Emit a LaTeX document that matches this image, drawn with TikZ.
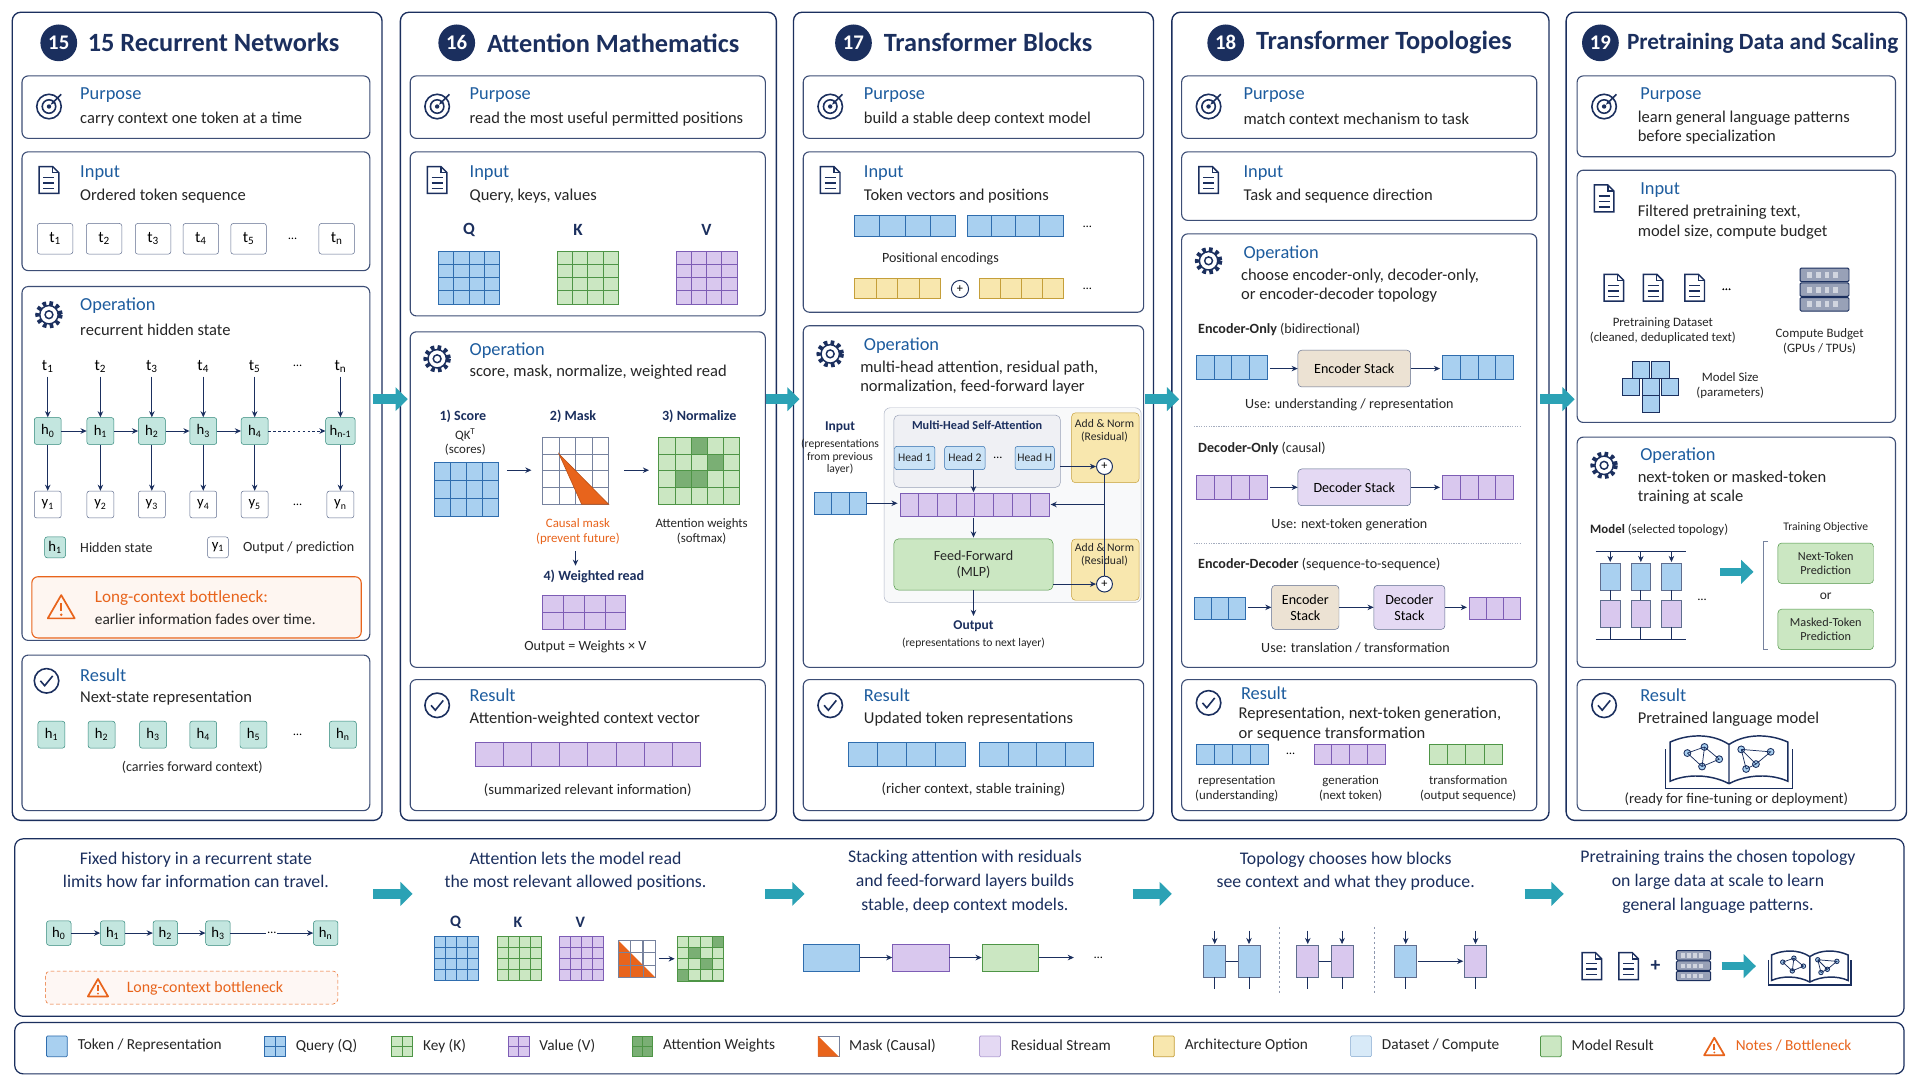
\documentclass[tikz,border=0pt]{standalone}
\usepackage{fontspec}
\setmainfont{Carlito}
\usetikzlibrary{arrows.meta,positioning,calc}

\definecolor{navy}{HTML}{1B2F5E}
\definecolor{headblue}{HTML}{1D5C9E}
\definecolor{tokfill}{HTML}{A9D0F0}
\definecolor{tokedge}{HTML}{2F6DAE}
\definecolor{grnfill}{HTML}{CBE7C2}
\definecolor{grnedge}{HTML}{4E9546}
\definecolor{purpfill}{HTML}{D9C8EE}
\definecolor{purpedge}{HTML}{7D5DB5}
\definecolor{yelfill}{HTML}{F8E7AE}
\definecolor{yeledge}{HTML}{C59F3A}
\definecolor{tealfill}{HTML}{C3E6DF}
\definecolor{tealedge}{HTML}{2E8679}
\definecolor{tanfill}{HTML}{ECE2D3}
\definecolor{warnor}{HTML}{E8641C}
\definecolor{tealar}{HTML}{2BA2B5}

\tikzset{
  panel/.style={draw=navy,line width=1.1pt,rounded corners=7pt,fill=white},
  box/.style={draw=navy!85,line width=.9pt,rounded corners=5pt},
  hd/.style={anchor=west,text=headblue,font=\fontsize{15}{17}\selectfont},
  tx/.style={anchor=west,text=black!85,font=\fontsize{13.5}{16}\selectfont,align=left},
  sm/.style={text=black!85,font=\fontsize{11.5}{13}\selectfont,align=center},
  tiny/.style={text=black!85,font=\fontsize{9.5}{10.5}\selectfont,align=center},
  lbl/.style={text=navy,font=\fontsize{11.5}{13}\bfseries,align=center},
  badge/.style={circle,fill=navy,text=white,minimum size=30pt,inner sep=0pt,font=\fontsize{17}{18}\bfseries},
  ttl/.style={text=navy,font=\fontsize{21.5}{23}\bfseries,anchor=west},
  ar/.style={-{Stealth[length=5pt,width=4.5pt]},line width=.8pt,draw=navy},
  big/.style={-{Triangle[length=10pt,width=19pt]},line width=8pt,draw=tealar},
  tok/.style={draw=navy!70,rounded corners=2pt,minimum width=29pt,minimum height=25pt,fill=white,font=\fontsize{13}{14}\selectfont},
  hbox/.style={draw=tealedge,fill=tealfill,rounded corners=2pt,minimum width=22pt,minimum height=22pt,inner sep=0pt,font=\fontsize{12}{13}\selectfont},
  ybox/.style={draw=navy!70,fill=white,rounded corners=2pt,minimum width=22pt,minimum height=22pt,inner sep=0pt,font=\fontsize{12}{13}\selectfont},
  cb/.style={draw=tokedge,fill=tokfill,line width=.6pt},
  cg/.style={draw=grnedge,fill=grnfill,line width=.6pt},
  cp/.style={draw=purpedge,fill=purpfill,line width=.6pt},
  cy/.style={draw=yeledge,fill=yelfill,line width=.6pt},
  cw/.style={draw=navy!60,fill=white,line width=.6pt},
  stack/.style={draw=navy!70,rounded corners=3pt,minimum width=92pt,minimum height=30pt,font=\fontsize{11.5}{13}\selectfont,align=center},
}

% grid of cells: x, y, cols, rows, cell w, cell h, style
\newcommand\cgrid[7]{\foreach \gi in {1,...,#3}{\foreach \gj in {1,...,#4}{%
  \draw[#7] ({#1+(\gi-1)*#5},{#2+(\gj-1)*#6}) rectangle ++(#5,#6);}}}
% icons
\newcommand\icotarget[2]{\begin{scope}[shift={(#1,#2)},navy,line width=1.3pt]
  \draw (0,0) circle (10); \draw (0,0) circle (5.5); \fill (0,0) circle (1.8);
  \draw[-{Stealth[length=4pt]}] (10,-10)--(1.5,-1.5);\end{scope}}
\newcommand\icodoc[2]{\begin{scope}[shift={(#1,#2)},navy,line width=1.2pt]
  \draw (-8,-11)--(3,-11)--(8,-6)--(8,11)--(-8,11)--cycle; \draw (3,-11)--(3,-6)--(8,-6);
  \foreach \ly in {-2,2.5,7} \draw (-4.5,\ly)--(4.5,\ly);\end{scope}}
\newcommand\icogear[2]{\begin{scope}[shift={(#1,#2)},navy]
  \draw[line width=3.5pt,dash pattern=on 3pt off 2.6pt] (0,0) circle (9.5);
  \draw[line width=1.2pt,fill=white] (0,0) circle (7.5); \draw[line width=1.2pt] (0,0) circle (3.2);\end{scope}}
\newcommand\icocheck[2]{\begin{scope}[shift={(#1,#2)},navy,line width=1.3pt]
  \draw (0,0) circle (10); \draw (-5,0)--(-1.5,4)--(5,-4);\end{scope}}
\newcommand\icowarn[3]{\begin{scope}[shift={(#1,#2)},scale=#3,warnor,line width=1.4pt,line join=round]
  \draw (0,-10)--(11,9)--(-11,9)--cycle; \draw (0,-3.5)--(0,3); \fill (0,6) circle (1.1);\end{scope}}
\newcommand\icoserver[3]{\begin{scope}[shift={(#1,#2)},scale=#3]
  \foreach \sy in {-18,-6,6} {\draw[fill=navy!45,draw=navy,line width=.8pt,rounded corners=1pt] (-20,\sy) rectangle (20,\sy+11);
  \foreach \sx in {-14,-7,0,7} \fill[white!80!navy] (\sx,\sy+3) rectangle ++(4,5);}\end{scope}}
\newcommand\icobook[3]{\begin{scope}[shift={(#1,#2)},scale=#3,navy,line width=1.2pt]
  \draw (0,-12) .. controls (-15,-22) and (-35,-20) .. (-48,-14) -- (-48,18) .. controls (-35,12) and (-15,12) .. (0,20) .. controls (15,12) and (35,12) .. (48,18) -- (48,-14) .. controls (35,-20) and (15,-22) .. (0,-12) -- (0,20);
  \draw (-52,-8)--(-52,24)--(52,24)--(52,-8);
  \foreach \p/\q in {-34/-5,-20/-10,-22/6,-8/0,10/-8,22/4,34/-6,14/8}{\fill[tokfill,draw=navy,line width=.7pt] (\p,\q) circle (2.8);}
  \draw[line width=.6pt] (-34,-5)--(-20,-10)--(-8,0)--(-22,6)--(-34,-5) (-20,-10)--(-22,6) (10,-8)--(22,4)--(34,-6)--(10,-8) (14,8)--(22,4) (10,-8)--(14,8);
\end{scope}}

\begin{document}
\begin{tikzpicture}[x=1pt,y=-1pt]
\useasboundingbox (0,0) rectangle (1568,882);
\fill[white] (0,0) rectangle (1568,882);

% ---------- panels
\draw[panel] (10,10) rectangle (312,670);
\draw[panel] (327,10) rectangle (634,670);
\draw[panel] (648,10) rectangle (942,670);
\draw[panel] (957,10) rectangle (1265,670);
\draw[panel] (1279,10) rectangle (1557,670);
\foreach \ax in {305,625,935,1258} \draw[big] (\ax,326)--(\ax+28,326);

% ---------- 15 recurrent networks
\node[badge] (b15) at (48,35) {15};
\node[ttl,right=5pt of b15] {15 Recurrent Networks};
\draw[box] (18,62) rectangle (302,113); \icotarget{40}{87}
\node[hd] at (62,78) {Purpose}; \node[tx] at (62,97) {carry context one token at a time};
\draw[box] (18,124) rectangle (302,221); \icodoc{40}{147}
\node[hd] at (62,141) {Input}; \node[tx] at (62,160) {Ordered token sequence};
\foreach \x/\i in {45/1,85/2,125/3,164/4,203/5} \node[tok] at (\x,195) {t\textsubscript{\i}};
\node at (239,195) {\dots}; \node[tok] at (275,195) {t\textsubscript{n}};
\draw[box] (18,234) rectangle (302,523); \icogear{40}{257}
\node[hd] at (62,250) {Operation}; \node[tx] at (62,269) {recurrent hidden state};
\foreach \x/\i [count=\k] in {39/0,82/1,124/2,166/3,208/4}{
  \node[hbox] (h\i) at (\x,352) {h\textsubscript{\i}};
  \node[font=\fontsize{13}{14}\selectfont] (t\i) at (\x,299) {t\textsubscript{\k}};
  \node[ybox] (y\i) at (\x,412) {y\textsubscript{\k}};
  \draw[ar] (t\i)--(h\i); \draw[ar] (h\i)--(y\i);}
\node[hbox,minimum width=24pt] (hn) at (278,352) {h\textsubscript{n-1}};
\node[font=\fontsize{13}{14}\selectfont] (tn) at (278,299) {t\textsubscript{n}};
\node[ybox] (yn) at (278,412) {y\textsubscript{n}};
\draw[ar] (tn)--(hn); \draw[ar] (hn)--(yn);
\node at (243,299) {\dots}; \node at (243,412) {\dots};
\foreach \a/\b in {0/1,1/2,2/3,3/4} \draw[ar] (h\a)--(h\b);
\draw[ar,dash pattern=on 2pt off 2pt] (h4)--(hn);
\node[hbox,minimum width=17pt,minimum height=17pt] at (45,447) {h\textsubscript{1}};
\node[sm,anchor=west] at (62,447) {Hidden state};
\node[ybox,minimum width=17pt,minimum height=17pt] at (178,447) {y\textsubscript{1}};
\node[sm,anchor=west] at (195,447) {Output / prediction};
\draw[draw=warnor,fill=warnor!6,rounded corners=5pt,line width=.9pt] (26,471) rectangle (295,521);
\icowarn{50}{496}{1}
\node[anchor=west,text=warnor,font=\fontsize{14}{15}\selectfont] at (74,488) {Long-context bottleneck:};
\node[tx,font=\fontsize{12.5}{13}\selectfont] at (74,506) {earlier information fades over time.};
\draw[box] (18,535) rectangle (302,662); \icocheck{38}{556}
\node[hd] at (62,551) {Result}; \node[tx] at (62,570) {Next-state representation};
\foreach \x/\i in {42/1,83/2,125/3,166/4,207/5} \node[hbox] at (\x,600) {h\textsubscript{\i}};
\node at (243,600) {\dots}; \node[hbox] at (280,600) {h\textsubscript{n}};
\node[sm] at (157,627) {(carries forward context)};

% ---------- 16 attention mathematics
\node[badge] (b16) at (373,35) {16};
\node[ttl,right=6pt of b16] {Attention Mathematics};
\draw[box] (335,62) rectangle (625,113); \icotarget{357}{87}
\node[hd] at (380,78) {Purpose}; \node[tx] at (380,97) {read the most useful permitted positions};
\draw[box] (335,124) rectangle (625,258); \icodoc{357}{147}
\node[hd] at (380,141) {Input}; \node[tx] at (380,160) {Query, keys, values};
\node[lbl,font=\fontsize{14}{15}\bfseries] at (383,188) {Q};
\node[lbl,font=\fontsize{14}{15}\bfseries] at (472,188) {K};
\node[lbl,font=\fontsize{14}{15}\bfseries] at (577,188) {V};
\cgrid{358}{205}{4}{4}{12.5}{10.8}{cb}
\cgrid{455}{205}{4}{4}{12.5}{10.8}{cg}
\cgrid{552}{205}{4}{4}{12.5}{10.8}{cp}
\draw[box] (335,271) rectangle (625,545); \icogear{357}{293}
\node[hd] at (380,286) {Operation}; \node[tx] at (380,304) {score, mask, normalize, weighted read};
\node[lbl] at (378,340) {1) Score};
\node[sm,font=\fontsize{10.5}{12}\selectfont] at (380,361) {QK\textsuperscript{T}\\(scores)};
\cgrid{355}{378}{4}{3}{13}{14.7}{cb}
\draw[ar] (414,384)--(434,384);
\node[lbl] at (468,340) {2) Mask};
\cgrid{443}{357}{4}{4}{13.5}{13.7}{cw}
\fill[warnor,draw=warnor!80!black,line width=.5pt] (456.5,370.7)--(497,411.8)--(475,411.8)--cycle;
\node[sm,text=warnor,font=\fontsize{10.5}{12}\selectfont] at (472,434) {Causal mask\\(prevent future)};
\draw[ar] (510,384)--(530,384);
\node[lbl] at (571,340) {3) Normalize};
\cgrid{538}{357}{5}{4}{13.2}{13.7}{cg}
\foreach \cx/\cy in {2/0,1/2,2/2,3/1}{\fill[grnedge!75] ({538+\cx*13.2},{357+\cy*13.7}) rectangle ++(13.2,13.7);}
\cgrid{538}{357}{5}{4}{13.2}{13.7}{draw=grnedge,line width=.6pt}
\node[sm,font=\fontsize{10.5}{12}\selectfont] at (573,434) {Attention weights\\(softmax)};
\draw[ar] (470,450)--(470,462);
\node[lbl] at (485,471) {4) Weighted read};
\cgrid{443}{486}{4}{2}{17}{14}{cp}
\node[sm] at (478,528) {Output = Weights × V};
\draw[box] (335,555) rectangle (625,662); \icocheck{357}{576}
\node[hd] at (380,568) {Result}; \node[tx] at (380,587) {Attention-weighted context vector};
\cgrid{388}{606}{8}{1}{23}{20}{cp}
\node[sm,font=\fontsize{12}{13}\selectfont] at (480,645) {(summarized relevant information)};

% ---------- 17 transformer blocks
\node[badge] (b17) at (697,35) {17};
\node[ttl,right=6pt of b17] {Transformer Blocks};
\draw[box] (656,62) rectangle (934,113); \icotarget{678}{87}
\node[hd] at (702,78) {Purpose}; \node[tx] at (702,97) {build a stable deep context model};
\draw[box] (656,124) rectangle (934,255); \icodoc{678}{147}
\node[hd] at (702,141) {Input}; \node[tx] at (702,160) {Token vectors and positions};
\cgrid{698}{176}{4}{1}{20.5}{17}{cb}
\cgrid{790}{176}{4}{1}{19.5}{17}{cb}
\node at (888,185) {\dots};
\node[sm] at (768,211) {Positional encodings};
\cgrid{698}{227}{4}{1}{17.5}{17}{cy}
\node[circle,draw=navy,line width=.8pt,inner sep=0pt,minimum size=14pt] at (784,236) {+};
\cgrid{800}{227}{4}{1}{17}{17}{cy}
\node at (888,236) {\dots};
\draw[box] (656,266) rectangle (934,545); \icogear{678}{289}
\node[hd] at (702,282) {Operation};
\node[tx,anchor=north west] at (699,291) {multi-head attention, residual path,\\normalization, feed-forward layer};
\node[tiny,text=navy,font=\fontsize{11}{12}\bfseries] at (686,349) {Input};
\node[tiny] at (686,373) {(representations\\from previous\\layer)};
\cgrid{665}{402}{3}{1}{14.3}{18}{cb}
\draw[fill=navy!3,draw=navy!35,rounded corners=5pt] (722,333) rectangle (932,492);
\draw[fill=navy!7,draw=navy!45,rounded corners=4pt] (730,339) rectangle (866,398);
\node[tiny,font=\fontsize{10}{11}\bfseries,text=navy] at (798,347) {Multi-Head Self-Attention};
\foreach \hx/\hn/\hw in {747/1/33,788/2/33}
  \node[draw=tokedge,fill=tokfill!60,rounded corners=2pt,minimum width=\hw pt,minimum height=19pt,inner sep=0pt,tiny] (head\hn) at (\hx,374) {Head \hn};
\node at (815,374) {\dots};
\node[draw=tokedge,fill=tokfill!60,rounded corners=2pt,minimum width=32pt,minimum height=19pt,inner sep=0pt,tiny] (headH) at (845,374) {Head H};
\cgrid{735}{403}{8}{1}{15.25}{19}{cp}
\draw[ar] (708,411)--(733,411);
\draw[ar] (795,384)--(795,402);
\draw[ar] (795,423)--(795,439);
\node[draw=grnedge,fill=grnfill,rounded corners=4pt,minimum width=130pt,minimum height=42pt,sm] (ff) at (795,461) {Feed-Forward\\(MLP)};
\node[draw=yeledge,fill=yelfill,rounded corners=3pt,minimum width=55pt,minimum height=57pt,anchor=north west,inner sep=0pt] (an1) at (875,337) {};
\node[draw=yeledge,fill=yelfill,rounded corners=3pt,minimum width=55pt,minimum height=50pt,anchor=north west,inner sep=0pt] (an2) at (875,440) {};
\node[tiny] at (902,352) {Add \& Norm\\(Residual)};
\node[tiny] at (902,453) {Add \& Norm\\(Residual)};
\node[circle,draw=navy,line width=.8pt,inner sep=0pt,minimum size=13pt,fill=white] (p1) at (902,381) {+};
\node[circle,draw=navy,line width=.8pt,inner sep=0pt,minimum size=13pt,fill=white] (p2) at (902,477) {+};
\draw[ar] (866,381)--(p1);
\draw[ar] (ff.east|-p2)--(p2);
\draw[ar] (p1)--(902,412)--(858,412);
\draw[line width=.8pt,navy] (p2)--(902,412);
\draw[ar] (ff.south)--(795,503);
\node[tiny,text=navy,font=\fontsize{11}{12}\bfseries] at (795,511) {Output};
\node[tiny] at (795,525) {(representations to next layer)};
\draw[box] (656,555) rectangle (934,662); \icocheck{678}{576}
\node[hd] at (702,568) {Result}; \node[tx] at (702,587) {Updated token representations};
\cgrid{693}{606}{4}{1}{23.75}{20}{cb}
\cgrid{800}{606}{4}{1}{23.25}{20}{cb}
\node[sm,font=\fontsize{12}{13}\selectfont] at (795,645) {(richer context, stable training)};

% ---------- 18 transformer topologies
\node[badge] (b18) at (1001,35) {18};
\node[ttl,right=6pt of b18] {Transformer Topologies};
\draw[box] (965,62) rectangle (1255,113); \icotarget{987}{87}
\node[hd] at (1012,78) {Purpose}; \node[tx] at (1012,97) {match context mechanism to task};
\draw[box] (965,124) rectangle (1255,180); \icodoc{987}{147}
\node[hd] at (1012,141) {Input}; \node[tx] at (1012,160) {Task and sequence direction};
\draw[box] (965,191) rectangle (1255,545); \icogear{987}{213}
\node[hd] at (1012,207) {Operation};
\node[tx,anchor=north west] at (1010,216) {choose encoder-only, decoder-only,\\or encoder-decoder topology};
\node[anchor=west,sm] at (975,269) {\textbf{Encoder-Only} (bidirectional)};
\cgrid{977}{290}{4}{1}{14.5}{20}{cb}
\node[stack,fill=tanfill] (enc1) at (1106,301) {Encoder Stack};
\cgrid{1178}{290}{4}{1}{14.5}{20}{cb}
\draw[ar] (1037,301)--(enc1); \draw[ar] (enc1)--(1176,301);
\node[sm] at (1102,331) {Use: understanding / representation};
\draw[navy!40,dash pattern=on 1pt off 1pt] (975,348)--(1243,348);
\node[anchor=west,sm] at (975,366) {\textbf{Decoder-Only} (causal)};
\cgrid{977}{388}{4}{1}{14.5}{20}{cp}
\node[stack,fill=purpfill!70] (dec1) at (1106,398) {Decoder Stack};
\cgrid{1178}{388}{4}{1}{14.5}{20}{cp}
\draw[ar] (1037,398)--(dec1); \draw[ar] (dec1)--(1176,398);
\node[sm] at (1102,429) {Use: next-token generation};
\draw[navy!40,dash pattern=on 1pt off 1pt] (975,444)--(1243,444);
\node[anchor=west,sm] at (975,461) {\textbf{Encoder-Decoder} (sequence-to-sequence)};
\cgrid{975}{488}{3}{1}{14}{18}{cb}
\node[stack,fill=tanfill,minimum width=55pt,minimum height=36pt] (enc2) at (1066,496) {Encoder\\Stack};
\node[stack,fill=purpfill!70,minimum width=58pt,minimum height=36pt] (dec2) at (1151,496) {Decoder\\Stack};
\cgrid{1200}{488}{3}{1}{14}{18}{cp}
\draw[ar] (1019,496)--(enc2); \draw[ar] (enc2)--(dec2); \draw[ar] (dec2)--(1198,496);
\node[sm] at (1107,529) {Use: translation / transformation};
\draw[box] (965,555) rectangle (1255,662); \icocheck{987}{574}
\node[hd] at (1010,566) {Result};
\node[tx,anchor=north west] at (1008,574) {Representation, next-token generation,\\or sequence transformation};
\cgrid{977}{608}{4}{1}{14.75}{16}{cb}
\node at (1054,616) {\dots};
\cgrid{1073}{608}{4}{1}{14.5}{16}{cp}
\cgrid{1167}{608}{4}{1}{15}{16}{cg}
\node[tiny,font=\fontsize{10.5}{12}\selectfont] at (1010,644) {representation\\(understanding)};
\node[tiny,font=\fontsize{10.5}{12}\selectfont] at (1103,644) {generation\\(next token)};
\node[tiny,font=\fontsize{10.5}{12}\selectfont] at (1199,644) {transformation\\(output sequence)};

% ---------- 19 pretraining data and scaling
\node[badge] (b19) at (1307,35) {19};
\node[ttl,right=3pt of b19,font=\fontsize{19}{21}\bfseries] {Pretraining Data and Scaling};
\draw[box] (1288,62) rectangle (1548,128); \icotarget{1310}{87}
\node[hd] at (1336,78) {Purpose};
\node[tx,anchor=north west] at (1334,87) {learn general language patterns\\before specialization};
\draw[box] (1288,139) rectangle (1548,345); \icodoc{1310}{162}
\node[hd] at (1336,155) {Input};
\node[tx,anchor=north west] at (1334,164) {Filtered pretraining text,\\model size, compute budget};
\foreach \dx in {1318,1350,1384} \icodoc{\dx}{235}
\node at (1410,237) {\dots};
\node[tiny,font=\fontsize{10.5}{12}\selectfont] at (1358,270) {Pretraining Dataset\\(cleaned, deduplicated text)};
\icoserver{1490}{237}{1}
\node[tiny,font=\fontsize{10.5}{12}\selectfont] at (1486,279) {Compute Budget\\(GPUs / TPUs)};
\foreach \cx/\cy in {1340/302,1356/302,1332/316,1348/316,1364/316,1348/330}{
  \draw[cb,draw=navy] (\cx-7,\cy-7) rectangle (\cx+7,\cy+7);}
\node[tiny,font=\fontsize{10.5}{12}\selectfont] at (1413,315) {Model Size\\(parameters)};
\draw[box] (1288,357) rectangle (1548,545); \icogear{1310}{380}
\node[hd] at (1336,372) {Operation};
\node[tx,anchor=north west] at (1334,381) {next-token or masked-token\\training at scale};
\node[tiny,font=\fontsize{10.5}{12}\selectfont] at (1355,433) {\textbf{Model} (selected topology)};
\draw[navy,line width=.7pt] (1303,450)--(1377,450) (1303,522)--(1377,522);
\foreach \mx in {1315,1340,1365}{
  \draw[cb,draw=navy!70] (\mx-8,460) rectangle (\mx+8,482);
  \draw[cp,draw=navy!70] (\mx-8,490) rectangle (\mx+8,512);
  \draw[ar,line width=.6pt] (\mx,450)--(\mx,459);
  \draw[navy,line width=.6pt] (\mx,482)--(\mx,490) (\mx,512)--(\mx,522);}
\node at (1390,490) {\dots};
\draw[big,line width=6pt] (1405,467)--(1432,467);
\node[tiny] at (1491,431) {Training Objective};
\draw[navy!60,line width=.6pt] (1444,442)--(1440,442)--(1440,530)--(1444,530);
\node[draw=grnedge,fill=grnfill,rounded corners=3pt,minimum width=78pt,minimum height=33pt,tiny,font=\fontsize{10}{11.5}\selectfont] (nt) at (1491,460) {Next-Token\\Prediction};
\node[tiny,font=\fontsize{11}{12}\selectfont] at (1491,487) {or};
\node[draw=grnedge,fill=grnfill,rounded corners=3pt,minimum width=78pt,minimum height=33pt,tiny,font=\fontsize{10}{11.5}\selectfont] (mt) at (1491,514) {Masked-Token\\Prediction};
\draw[box] (1288,555) rectangle (1548,662); \icocheck{1310}{576}
\node[hd] at (1336,568) {Result}; \node[tx] at (1334,587) {Pretrained language model};
\icobook{1412}{620}{1}
\node[sm,font=\fontsize{12}{13}\selectfont] at (1418,653) {(ready for fine-tuning or deployment)};

% ---------- summary strip
\draw[panel,line width=1pt] (12,685) rectangle (1555,830);
\foreach \ax in {305,625,925,1245} \draw[big] (\ax,730)--(\ax+32,730);
\tikzset{sum/.style={text=navy,font=\fontsize{14.5}{19.5}\selectfont,align=center,anchor=north}}
\node[sum] at (160,692) {Fixed history in a recurrent state\\limits how far information can travel.};
\foreach \x/\i in {48/0,92/1,135/2,178/3} \node[hbox,minimum width=20pt,minimum height=20pt] (s\i) at (\x,762) {h\textsubscript{\i}};
\node[hbox,minimum width=20pt,minimum height=20pt] (sn) at (266,762) {h\textsubscript{n}};
\foreach \a/\b in {0/1,1/2,2/3} \draw[ar] (s\a)--(s\b);
\draw[ar] (s3)--(sn) node[midway,fill=white,inner sep=1pt] {\dots};
\draw[draw=warnor,fill=warnor!5,rounded corners=4pt,dash pattern=on 3pt off 2pt] (37,793) rectangle (276,820);
\icowarn{80}{807}{.75}
\node[text=warnor,anchor=west,font=\fontsize{13}{14}\selectfont] at (100,807) {Long-context bottleneck};
\node[sum] at (470,692) {Attention lets the model read\\the most relevant allowed positions.};
\foreach \lx/\ll in {372/Q,423/K,474/V} \node[lbl,font=\fontsize{13}{14}\bfseries] at (\lx,753) {\ll};
\cgrid{355}{765}{4}{4}{9}{9}{cb}
\cgrid{406}{765}{4}{4}{9}{9}{cg}
\cgrid{457}{765}{4}{4}{9}{9}{cp}
\cgrid{505}{768}{3}{3}{10}{10}{cw}
\fill[warnor] (505,768)--(535,798)--(505,798)--cycle;
\cgrid{505}{768}{3}{3}{10}{10}{draw=navy!60,line width=.5pt}
\draw[ar] (538,783)--(551,783);
\cgrid{553}{765}{4}{4}{9.5}{9}{cg}
\foreach \cx/\cy in {1/1,2/2,0/3,3/0}{\fill[grnedge!75] ({553+\cx*9.5},{765+\cy*9}) rectangle ++(9.5,9);}
\cgrid{553}{765}{4}{4}{9.5}{9}{draw=grnedge,line width=.5pt}
\node[sum] at (788,691) {Stacking attention with residuals\\and feed-forward layers builds\\stable, deep context models.};
\node[cb,draw=tokedge,minimum width=46pt,minimum height=22pt] (sa) at (679,782) {};
\node[cp,minimum width=46pt,minimum height=22pt] (sb) at (752,782) {};
\node[cg,minimum width=46pt,minimum height=22pt] (sc) at (825,782) {};
\coordinate (sd) at (877,782);
\node at (897,782) {\dots};
\draw[ar] (sa)--(sb); \draw[ar] (sb)--(sc); \draw[ar] (sc)--(sd);
\node[sum] at (1099,692) {Topology chooses how blocks\\see context and what they produce.};
\foreach \tx/\ts in {992/cb,1020/cb,1068/cp,1096/cp,1148/cb,1205/cp}{
  \draw[\ts,draw=navy!70] (\tx-9,772) rectangle (\tx+9,798);
  \draw[ar,line width=.6pt] (\tx,760)--(\tx,771);
  \draw[navy,line width=.6pt] (\tx,798)--(\tx,808);}
\draw[navy,line width=.6pt] (1001,785)--(1011,785) (1077,785)--(1087,785);
\draw[ar] (1158,785)--(1195,785);
\draw[navy!50,dash pattern=on 2pt off 2pt] (1045,757)--(1045,812) (1122,757)--(1122,812);
\node[sum] at (1403,691) {Pretraining trains the chosen topology\\on large data at scale to learn\\general language patterns.};
\icodoc{1300}{789} \icodoc{1330}{789}
\node[font=\fontsize{16}{16}\bfseries,text=navy] at (1352,789) {+};
\icoserver{1383}{789}{.7}
\draw[big,line width=6pt] (1406,789)--(1434,789);
\icobook{1478}{789}{.65}

% ---------- legend
\draw[panel,line width=1pt] (12,835) rectangle (1555,877);
\tikzset{leg/.style={anchor=west,text=black!85,font=\fontsize{12.5}{13}\selectfont}}
\draw[cb,rounded corners=1pt] (38,846) rectangle ++(17,17); \node[leg] at (60,854) {Token / Representation};
\cgrid{216}{846}{2}{2}{8.5}{8.5}{cb} \node[leg] at (238,854) {Query (Q)};
\cgrid{320}{846}{2}{2}{8.5}{8.5}{cg} \node[leg] at (342,854) {Key (K)};
\cgrid{415}{846}{2}{2}{8.5}{8.5}{cp} \node[leg] at (437,854) {Value (V)};
\cgrid{516}{846}{2}{2}{8.5}{8.5}{draw=grnedge,fill=grnedge!75} \node[leg] at (538,854) {Attention Weights};
\draw[navy!60] (668,846) rectangle ++(17,17); \fill[warnor] (668,846)--(685,863)--(668,863)--cycle;
\node[leg] at (690,854) {Mask (Causal)};
\draw[cp,fill=purpfill!70,draw=purpedge!60,rounded corners=1pt] (800,846) rectangle ++(17,17); \node[leg] at (822,854) {Residual Stream};
\draw[cy,rounded corners=1pt] (942,846) rectangle ++(17,17); \node[leg] at (964,854) {Architecture Option};
\draw[fill=tokfill!45,draw=tokedge!60,rounded corners=1pt] (1103,846) rectangle ++(17,17); \node[leg] at (1125,854) {Dataset / Compute};
\draw[cg,rounded corners=1pt] (1258,846) rectangle ++(17,17); \node[leg] at (1280,854) {Model Result};
\icowarn{1400}{855}{.75}
\node[leg,text=warnor] at (1414,854) {Notes / Bottleneck};
\end{tikzpicture}
\end{document}
